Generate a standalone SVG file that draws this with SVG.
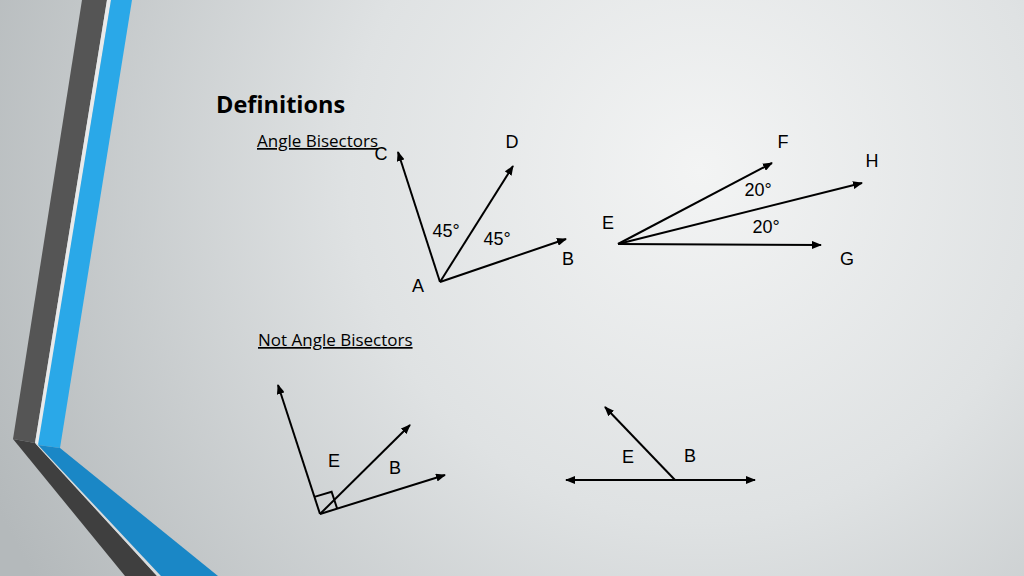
<svg xmlns="http://www.w3.org/2000/svg" width="1024" height="576" viewBox="0 0 1024 576">
<defs>
<radialGradient id="bg" cx="700" cy="170" r="780" gradientUnits="userSpaceOnUse">
<stop offset="0" stop-color="#f3f4f4"/>
<stop offset="0.45" stop-color="#dfe2e3"/>
<stop offset="1" stop-color="#b4b9bb"/>
</radialGradient>
<marker id="ah" viewBox="0 0 10 8" refX="9" refY="4" markerWidth="10" markerHeight="8" markerUnits="userSpaceOnUse" orient="auto-start-reverse">
<path d="M0,0 L10,4 L0,8 z" fill="#000"/>
</marker>
<style>
.ray{stroke:#000;stroke-width:2;fill:none;marker-end:url(#ah)}
.ray2{stroke:#000;stroke-width:2;fill:none;marker-end:url(#ah);marker-start:url(#ah)}
.lbl{font-family:"Liberation Sans",Arial,sans-serif;font-size:18px;fill:#000;text-anchor:middle}
.sub{font-family:"Open Sans","Liberation Sans",sans-serif;font-size:17px;fill:#000;text-decoration:underline}
</style>
</defs>
<rect width="1024" height="576" fill="url(#bg)"/>
<g id="decor">
<polygon points="82,0 107,0 35,443 13,439" fill="#555555"/>
<polygon points="107,0 111,0 39,445 35,443" fill="#e8eaeb"/>
<polygon points="111,0 132,0 60,448 38,445" fill="#2aa8e8"/>
<polygon points="13,439 35,443 157,576 125,576" fill="#3f3f3f"/>
<polygon points="35,443 39,445 161,576 157,576" fill="#d8dbdc"/>
<polygon points="38,445 60,448 218,576 161,576" fill="#1a87c6"/>
</g>
<g id="titles">
<text x="216" y="113" font-family="'Open Sans','Liberation Sans',sans-serif" font-size="23.5" font-weight="bold" fill="#000">Definitions</text>
<text class="sub" x="257" y="147">Angle Bisectors</text>
<text class="sub" x="258" y="346">Not Angle Bisectors</text>
</g>
<g id="connectors">
<line class="ray" x1="440" y1="282" x2="398" y2="152"/>
<line class="ray" x1="440" y1="282" x2="513" y2="166"/>
<line class="ray" x1="440" y1="282" x2="566" y2="239"/>
<line class="ray" x1="618" y1="244" x2="772" y2="163"/>
<line class="ray" x1="618" y1="244" x2="862" y2="183"/>
<line class="ray" x1="618" y1="244" x2="821" y2="245"/>
<line class="ray" x1="320" y1="514" x2="278" y2="385"/>
<line class="ray" x1="320" y1="514" x2="410" y2="425"/>
<line class="ray" x1="320" y1="514" x2="445" y2="475"/>
<polyline points="314.4,496.9 331.6,491.7 337.2,508.8" fill="none" stroke="#000" stroke-width="2"/>
<line class="ray2" x1="566" y1="480" x2="755" y2="480"/>
<line class="ray" x1="675" y1="480" x2="605" y2="407"/>
</g>
<g id="angle1">
<text class="lbl" x="381" y="160">C</text>
<text class="lbl" x="512" y="148">D</text>
<text class="lbl" x="568" y="265">B</text>
<text class="lbl" x="418" y="292">A</text>
<text class="lbl" x="446" y="237">45°</text>
<text class="lbl" x="497" y="245">45°</text>
</g>
<g id="angle2">
<text class="lbl" x="783" y="148">F</text>
<text class="lbl" x="872" y="167">H</text>
<text class="lbl" x="608" y="229">E</text>
<text class="lbl" x="847" y="265">G</text>
<text class="lbl" x="758" y="196">20°</text>
<text class="lbl" x="766" y="233">20°</text>
</g>
<g id="angle3">
<text class="lbl" x="334" y="467">E</text>
<text class="lbl" x="395" y="474">B</text>
</g>
<g id="angle4">
<text class="lbl" x="628" y="463">E</text>
<text class="lbl" x="690" y="462">B</text>
</g>
</svg>
